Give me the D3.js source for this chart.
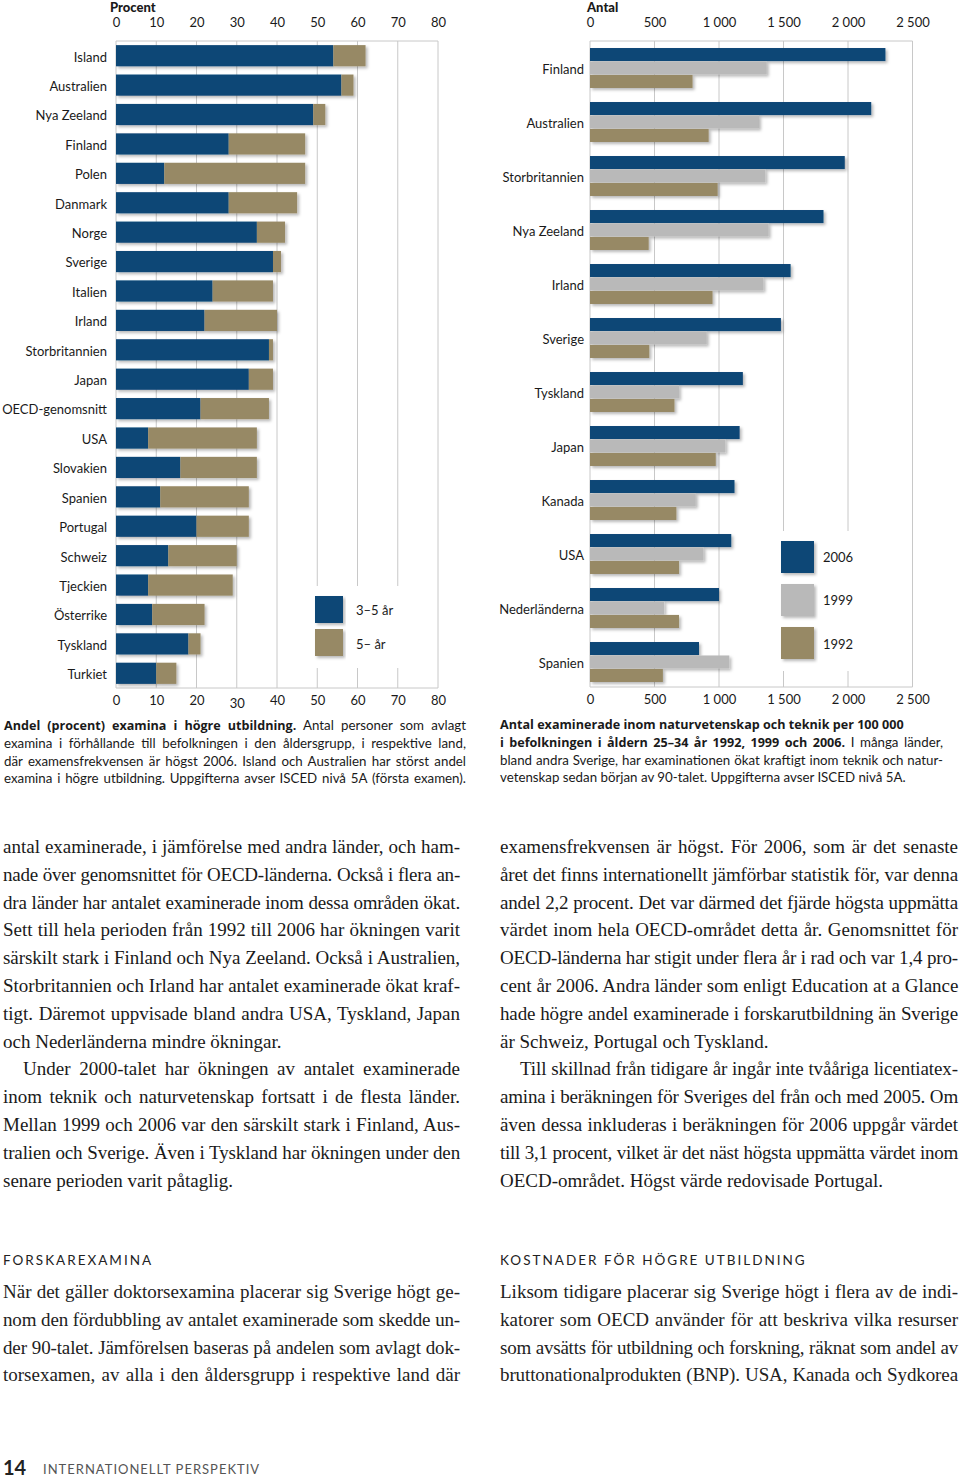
<!DOCTYPE html>
<html>
<head>
<meta charset="utf-8">
<script src="https://cdn.jsdelivr.net/npm/d3@7"></script>
<style>
  body { margin: 0; background: #fff; }
  #page { position: relative; width: 960px; height: 1478px; overflow: hidden; }
  svg { position: absolute; left: 0; top: 0; }
  .chart text { font-family: Lato, "Open Sans", sans-serif; font-size: 13px; fill: #1a1a1a; }
  .col { position: absolute; }
  .ln { white-space: nowrap; text-align: justify; text-align-last: justify; }
  .ln.end { text-align-last: left; }
  .cap { font-family: Lato, sans-serif; font-size: 13.3px; line-height: 17.8px; color: #1a1a1a; }
  .cap b { font-family: "Open Sans", sans-serif; font-weight: 700; font-size: 12.6px; }
  .body { font-family: "Liberation Serif", serif; font-size: 19px; line-height: 27.8px; color: #1a1a1a; }
  .head { position: absolute; font-family: Lato, sans-serif; font-size: 13.5px; letter-spacing: 2px; color: #222; }
  .cond { font-family: "Liberation Serif", serif; font-size: 19px; line-height: 27.8px; color: #222; }
</style>
</head>
<body>
<div id="page"></div>
<script>
// vänster diagram: andel examina (procent)
const leftCountries = ["Island","Australien","Nya Zeeland","Finland","Polen","Danmark","Norge","Sverige","Italien","Irland","Storbritannien","Japan","OECD-genomsnitt","USA","Slovakien","Spanien","Portugal","Schweiz","Tjeckien","Österrike","Tyskland","Turkiet"];
const short3to5 = [54,56,49,28,12,28,35,39,24,22,38,33,21,8,16,11,20,13,8,9,18,10];
const long5plus = [8,3,3,19,35,17,7,2,15,18,1,6,17,27,19,22,13,17,21,13,3,5];
const leftTicks = [0,10,20,30,40,50,60,70,80];

// höger diagram: antal per 100 000
const rightCountries = ["Finland","Australien","Storbritannien","Nya Zeeland","Irland","Sverige","Tyskland","Japan","Kanada","USA","Nederländerna","Spanien"];
const years = ["2006","1999","1992"];
const v2006 = [2290,2180,1975,1810,1555,1480,1185,1160,1120,1095,1000,845];
const v1999 = [1370,1310,1360,1385,1345,905,690,1050,820,880,575,1080];
const v1992 = [795,920,990,455,950,460,655,975,670,690,690,565];
const rightTicks = [0,500,1000,1500,2000,2500];

const blue = "#0b4676", tan = "#978965", grey = "#b9b9b9", grid = "#c8c8c8";

const page = d3.select("#page");
const svg = page.append("svg").attr("class", "chart").attr("width", 960).attr("height", 800);

const defs = svg.append("defs");
const f = defs.append("filter").attr("id", "sh").attr("x", "-5%").attr("y", "-20%").attr("width", "115%").attr("height", "160%");
f.append("feDropShadow").attr("dx", 2).attr("dy", 2).attr("stdDeviation", 1.6)
  .attr("flood-color", "#000").attr("flood-opacity", 0.28);

const nf = d3.formatLocale({decimal: ",", thousands: "\u00a0", grouping: [3], currency: ["", ""]}).format(",");

// ---- vänster ----
const plotTop = 41, plotBottom = 688;
const xL = d3.scaleLinear().domain([0, 80]).range([116, 438]);
const yL = d3.scaleBand().domain(leftCountries).range([plotTop, plotBottom]).paddingInner(0.28).paddingOuter(0.14);

svg.append("g").selectAll("line").data(leftTicks).join("line")
  .attr("x1", d => xL(d)).attr("x2", d => xL(d)).attr("y1", plotTop).attr("y2", plotBottom)
  .attr("stroke", grid);
svg.append("line").attr("x1", xL(0)).attr("x2", xL(80)).attr("y1", plotTop).attr("y2", plotTop).attr("stroke", grid);
svg.append("line").attr("x1", xL(0)).attr("x2", xL(80)).attr("y1", plotBottom).attr("y2", plotBottom).attr("stroke", grid);

// vit bakgrund bakom förklaringen
svg.append("rect").attr("x", 304).attr("y", 586).attr("width", 118).attr("height", 82).attr("fill", "#fff");

const leftRows = leftCountries.map((c, i) => ({country: c, a: short3to5[i], b: long5plus[i]}));
const stack = d3.stack().keys(["a", "b"])(leftRows);
svg.append("g").attr("filter", "url(#sh)")
  .selectAll("g").data(stack).join("g")
  .attr("fill", (d, i) => i === 0 ? blue : tan)
  .selectAll("rect").data(d => d).join("rect")
  .attr("x", d => xL(d[0]))
  .attr("width", d => xL(d[1]) - xL(d[0]))
  .attr("y", d => yL(d.data.country))
  .attr("height", yL.bandwidth());

const axTopL = svg.append("g").attr("transform", `translate(0,${plotTop})`)
  .call(d3.axisTop(xL).tickValues(leftTicks).tickSize(0).tickPadding(14));
const axBotL = svg.append("g").attr("transform", `translate(0,${plotBottom})`)
  .call(d3.axisBottom(xL).tickValues(leftTicks).tickSize(0).tickPadding(8));
axBotL.selectAll(".tick text").filter(d => d === 30).attr("dy", "0.9em");
const axLeftL = svg.append("g").attr("transform", `translate(${xL(0) - 9},0)`)
  .call(d3.axisLeft(yL).tickSize(0).tickPadding(0));
[axTopL, axBotL, axLeftL].forEach(a => { a.select(".domain").remove(); a.selectAll("text").attr("font-family", null).attr("font-size", null); });
axLeftL.selectAll(".tick text").attr("dy", "0.45em");

svg.append("text").attr("x", 110).attr("y", 12).attr("font-weight", 900).text("Procent");

const legL = [{k: "3–5 år", c: blue}, {k: "5– år", c: tan}];
const lg = svg.append("g").attr("filter", "url(#sh)");
lg.selectAll("rect").data(legL).join("rect")
  .attr("x", 315).attr("y", (d, i) => 596 + i * 33).attr("width", 28).attr("height", 27).attr("fill", d => d.c);
svg.selectAll(".legLt").data(legL).join("text").attr("class", "legLt")
  .attr("x", 356).attr("y", (d, i) => 610 + i * 34).attr("dy", "0.35em").text(d => d.k);

// ---- höger ----
const xR = d3.scaleLinear().domain([0, 2500]).range([590, 912.5]);
const yR = d3.scaleBand().domain(rightCountries).range([plotTop, 689]).paddingInner(0.26).paddingOuter(0.13);
const yY = d3.scaleBand().domain(years).range([0, yR.bandwidth()]).paddingInner(0.03);

svg.append("g").selectAll("line").data(rightTicks).join("line")
  .attr("x1", d => xR(d)).attr("x2", d => xR(d)).attr("y1", plotTop).attr("y2", 687)
  .attr("stroke", grid);
svg.append("line").attr("x1", xR(0)).attr("x2", xR(2500)).attr("y1", plotTop).attr("y2", plotTop).attr("stroke", grid);
svg.append("line").attr("x1", xR(0)).attr("x2", xR(2500)).attr("y1", 687).attr("y2", 687).attr("stroke", grid);
svg.append("rect").attr("x", 770).attr("y", 531).attr("width", 130).attr("height", 140).attr("fill", "#fff");

const series = {"2006": v2006, "1999": v1999, "1992": v1992};
const colors = {"2006": blue, "1999": grey, "1992": tan};
const rightRows = [];
rightCountries.forEach((c, i) => years.forEach(y => rightRows.push({country: c, year: y, v: series[y][i]})));
svg.append("g").attr("filter", "url(#sh)")
  .selectAll("rect").data(rightRows).join("rect")
  .attr("x", xR(0))
  .attr("y", d => yR(d.country) + yY(d.year))
  .attr("width", d => xR(d.v) - xR(0))
  .attr("height", yY.bandwidth())
  .attr("fill", d => colors[d.year]);

const axTopR = svg.append("g").attr("transform", `translate(0,${plotTop})`)
  .call(d3.axisTop(xR).tickValues(rightTicks).tickFormat(nf).tickSize(0).tickPadding(14));
const axBotR = svg.append("g").attr("transform", `translate(0,687)`)
  .call(d3.axisBottom(xR).tickValues(rightTicks).tickFormat(nf).tickSize(0).tickPadding(8));
const axLeftR = svg.append("g").attr("transform", `translate(${xR(0) - 6},0)`)
  .call(d3.axisLeft(yR).tickSize(0).tickPadding(0));
[axTopR, axBotR, axLeftR].forEach(a => { a.select(".domain").remove(); a.selectAll("text").attr("font-family", null).attr("font-size", null); });
axLeftR.selectAll(".tick text").attr("dy", "0.45em");

svg.append("text").attr("x", 587).attr("y", 12).attr("font-weight", 900).text("Antal");

const lr = svg.append("g").attr("filter", "url(#sh)");
lr.selectAll("rect").data(years).join("rect")
  .attr("x", 781).attr("y", (d, i) => 541 + i * 43).attr("width", 33).attr("height", 32).attr("fill", d => colors[d]);
svg.selectAll(".legRt").data(years).join("text").attr("class", "legRt")
  .attr("x", 823).attr("y", (d, i) => 557 + i * 43.5).attr("dy", "0.35em").text(d => d);

// ---- text ----
// varje rad för sig, utfylld; krymp teckenavståndet om raden inte får plats
function block(cls, x, y, w, lines) {
  const d = page.append("div").attr("class", "col " + cls)
    .style("left", x + "px").style("top", y + "px").style("width", w + "px");
  lines.forEach(l => {
    const el = d.append("div").attr("class", "ln" + (l.end ? " end" : ""))
      .style("text-indent", l.ind ? "20px" : null).html(l.t).node();
    const over = el.scrollWidth - el.clientWidth;
    if (over > 0) {
      const n = el.textContent.length;
      el.style.letterSpacing = (-(over + 2) / n).toFixed(3) + "px";
    }
  });
}

block("cap", 4, 717, 462, [
  {t: "<b>Andel (procent) examina i högre utbildning.</b> Antal personer som avlagt"},
  {t: "examina i förhållande till befolkningen i den åldersgrupp, i respektive land,"},
  {t: "där examensfrekvensen är högst 2006. Island och Australien har störst andel"},
  {t: "examina i högre utbildning. Uppgifterna avser ISCED nivå 5A (första examen)."}
]);
block("cap", 500, 716, 443, [
  {t: "<b>Antal examinerade inom naturvetenskap och teknik per 100 000</b>", end: true},
  {t: "<b>i befolkningen i åldern 25–34 år 1992, 1999 och 2006.</b> I många länder,"},
  {t: "bland andra Sverige, har examinationen ökat kraftigt inom teknik och natur-"},
  {t: "vetenskap sedan början av 90-talet. Uppgifterna avser ISCED nivå 5A.", end: true}
]);

block("body", 3, 833, 457, [
  {t: "antal examinerade, i jämförelse med andra länder, och ham-"},
  {t: "nade över genomsnittet för OECD-länderna. Också i flera an-"},
  {t: "dra länder har antalet examinerade inom dessa områden ökat."},
  {t: "Sett till hela perioden från 1992 till 2006 har ökningen varit"},
  {t: "särskilt stark i Finland och Nya Zeeland. Också i Australien,"},
  {t: "Storbritannien och Irland har antalet examinerade ökat kraf-"},
  {t: "tigt. Däremot uppvisade bland andra USA, Tyskland, Japan"},
  {t: "och Nederländerna mindre ökningar.", end: true},
  {t: "Under 2000-talet har ökningen av antalet examinerade", ind: true},
  {t: "inom teknik och naturvetenskap fortsatt i de flesta länder."},
  {t: "Mellan 1999 och 2006 var den särskilt stark i Finland, Aus-"},
  {t: "tralien och Sverige. Även i Tyskland har ökningen under den"},
  {t: "senare perioden varit påtaglig.", end: true}
]);
block("body", 500, 833, 458, [
  {t: "examensfrekvensen är högst. För 2006, som är det senaste"},
  {t: "året det finns internationellt jämförbar statistik för, var denna"},
  {t: "andel 2,2 procent. Det var därmed det fjärde högsta uppmätta"},
  {t: "värdet inom hela OECD-området detta år. Genomsnittet för"},
  {t: "OECD-länderna har stigit under flera år i rad och var 1,4 pro-"},
  {t: "cent år 2006. Andra länder som enligt Education at a Glance"},
  {t: "hade högre andel examinerade i forskarutbildning än Sverige"},
  {t: "är Schweiz, Portugal och Tyskland.", end: true},
  {t: "Till skillnad från tidigare år ingår inte tvååriga licentiatex-", ind: true},
  {t: "amina i beräkningen för Sveriges del från och med 2005. Om"},
  {t: "även dessa inkluderas i beräkningen för 2006 uppgår värdet"},
  {t: "till 3,1 procent, vilket är det näst högsta uppmätta värdet inom"},
  {t: "OECD-området. Högst värde redovisade Portugal.", end: true}
]);

page.append("div").attr("class", "head").style("left", "3px").style("top", "1252px").text("FORSKAREXAMINA");
page.append("div").attr("class", "head").style("left", "500px").style("top", "1252px").text("KOSTNADER FÖR HÖGRE UTBILDNING");

block("cond", 3, 1278, 457, [
  {t: "När det gäller doktorsexamina placerar sig Sverige högt ge-"},
  {t: "nom den fördubbling av antalet examinerade som skedde un-"},
  {t: "der 90-talet. Jämförelsen baseras på andelen som avlagt dok-"},
  {t: "torsexamen, av alla i den åldersgrupp i respektive land där"}
]);
block("cond", 500, 1278, 458, [
  {t: "Liksom tidigare placerar sig Sverige högt i flera av de indi-"},
  {t: "katorer som OECD använder för att beskriva vilka resurser"},
  {t: "som avsätts för utbildning och forskning, räknat som andel av"},
  {t: "bruttonationalprodukten (BNP). USA, Kanada och Sydkorea"}
]);

page.append("div").style("position", "absolute").style("left", "3px").style("top", "1455px")
  .style("font-family", "Lato, sans-serif").style("font-size", "20px").style("font-weight", "700").style("color", "#222")
  .text("14");
page.append("div").style("position", "absolute").style("left", "43px").style("top", "1461px")
  .style("font-family", "Lato, sans-serif").style("font-size", "13px").style("letter-spacing", "1px").style("color", "#555")
  .text("INTERNATIONELLT PERSPEKTIV");
</script>
</body>
</html>
